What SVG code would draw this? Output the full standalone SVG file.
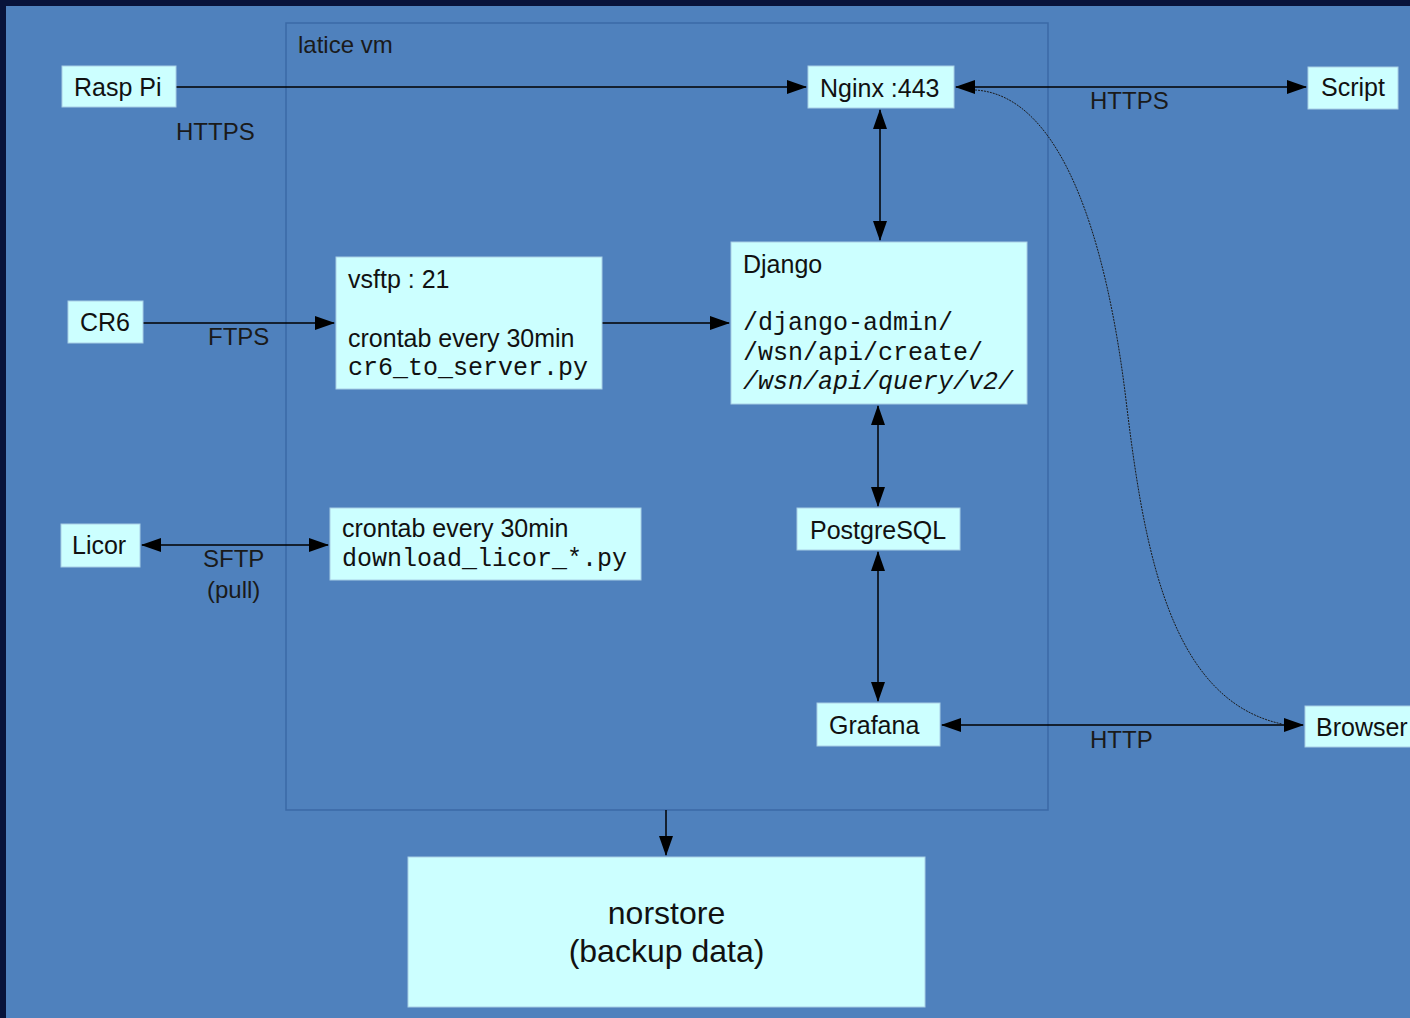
<svg xmlns="http://www.w3.org/2000/svg" width="1410" height="1018" viewBox="0 0 1410 1018">
<defs>
<marker id="ah" markerUnits="userSpaceOnUse" markerWidth="20" markerHeight="14" refX="19" refY="7" orient="auto-start-reverse" viewBox="0 0 20 14">
<path d="M0,0 L20,7 L0,14 z" fill="#000"/>
</marker>
<style>
.box{fill:#ccffff;stroke:#a9cfe6;stroke-width:1}
.t{font-family:"Liberation Sans",Arial,sans-serif;font-size:25px;fill:#111}
.big{font-size:32px}
.m{font-family:"Liberation Mono","Courier New",monospace;font-size:25px;fill:#111}
.lbl{font-family:"Liberation Sans",Arial,sans-serif;font-size:24px;fill:#1a1a1a}
.c{fill:none;stroke:#000;stroke-width:1.5}
</style>
</defs>
<rect x="0" y="0" width="1410" height="1018" fill="#08133a"/>
<rect x="6" y="6" width="1404" height="1012" fill="#4f81bd"/>

<g id="latice-vm">
<rect x="286" y="23" width="762" height="787" fill="none" stroke="#3b69a6" stroke-width="1.5"/>
<text class="lbl" x="298" y="53">latice vm</text>
</g>

<g id="connectors">
<line class="c" x1="176" y1="87" x2="806" y2="87" marker-end="url(#ah)"/>
<line class="c" x1="956" y1="87" x2="1306" y2="87" marker-start="url(#ah)" marker-end="url(#ah)"/>
<line class="c" x1="880" y1="110" x2="880" y2="240" marker-start="url(#ah)" marker-end="url(#ah)"/>
<line class="c" x1="143" y1="323" x2="334" y2="323" marker-end="url(#ah)"/>
<line class="c" x1="602" y1="323" x2="729" y2="323" marker-end="url(#ah)"/>
<line class="c" x1="142" y1="545" x2="328" y2="545" marker-start="url(#ah)" marker-end="url(#ah)"/>
<line class="c" x1="878" y1="406" x2="878" y2="506" marker-start="url(#ah)" marker-end="url(#ah)"/>
<line class="c" x1="878" y1="552" x2="878" y2="701" marker-start="url(#ah)" marker-end="url(#ah)"/>
<line class="c" x1="942" y1="725" x2="1303" y2="725" marker-start="url(#ah)" marker-end="url(#ah)"/>
<line class="c" x1="666" y1="810" x2="666" y2="855" marker-end="url(#ah)"/>
<path d="M975,90 C1065,95 1108,250 1126,400 C1144,550 1170,700 1282,724" fill="none" stroke="#1a1a1a" stroke-width="1" stroke-dasharray="2,1"/>
<text class="lbl" x="176" y="140">HTTPS</text>
<text class="lbl" x="1090" y="109">HTTPS</text>
<text class="lbl" x="208" y="345">FTPS</text>
<text class="lbl" x="203" y="567">SFTP</text>
<text class="lbl" x="207" y="598">(pull)</text>
<text class="lbl" x="1090" y="748">HTTP</text>
</g>

<g id="rasp-pi">
<rect class="box" x="62" y="66" width="114" height="41"/>
<text class="t" x="74" y="96">Rasp Pi</text>
</g>
<g id="nginx">
<rect class="box" x="808" y="66" width="146" height="42"/>
<text class="t" x="820" y="97">Nginx :443</text>
</g>
<g id="script">
<rect class="box" x="1308" y="67" width="90" height="42"/>
<text class="t" x="1321" y="96">Script</text>
</g>
<g id="cr6">
<rect class="box" x="68" y="301" width="75" height="42"/>
<text class="t" x="80" y="331">CR6</text>
</g>
<g id="vsftp">
<rect class="box" x="336" y="257" width="266" height="132"/>
<text class="t" x="348" y="288">vsftp : 21</text>
<text class="t" x="348" y="347">crontab every 30min</text>
<text class="m" x="348" y="375">cr6_to_server.py</text>
</g>
<g id="django">
<rect class="box" x="731" y="242" width="296" height="162"/>
<text class="t" x="743" y="273">Django</text>
<text class="m" x="743" y="330">/django-admin/</text>
<text class="m" x="743" y="360">/wsn/api/create/</text>
<text class="m" x="743" y="389" font-style="italic">/wsn/api/query/v2/</text>
</g>
<g id="licor">
<rect class="box" x="61" y="524" width="79" height="43"/>
<text class="t" x="72" y="554">Licor</text>
</g>
<g id="licor-cron">
<rect class="box" x="330" y="508" width="311" height="72"/>
<text class="t" x="342" y="537">crontab every 30min</text>
<text class="m" x="342" y="566">download_licor_*.py</text>
</g>
<g id="postgresql">
<rect class="box" x="797" y="508" width="163" height="42"/>
<text class="t" x="810" y="539">PostgreSQL</text>
</g>
<g id="grafana">
<rect class="box" x="817" y="703" width="123" height="43"/>
<text class="t" x="829" y="734">Grafana</text>
</g>
<g id="browser">
<rect class="box" x="1305" y="706" width="110" height="41"/>
<text class="t" x="1316" y="736">Browser</text>
</g>
<g id="norstore">
<rect class="box" x="408" y="857" width="517" height="150"/>
<text class="t big" x="666.5" y="924" text-anchor="middle">norstore</text>
<text class="t big" x="666.5" y="962" text-anchor="middle">(backup data)</text>
</g>
</svg>
